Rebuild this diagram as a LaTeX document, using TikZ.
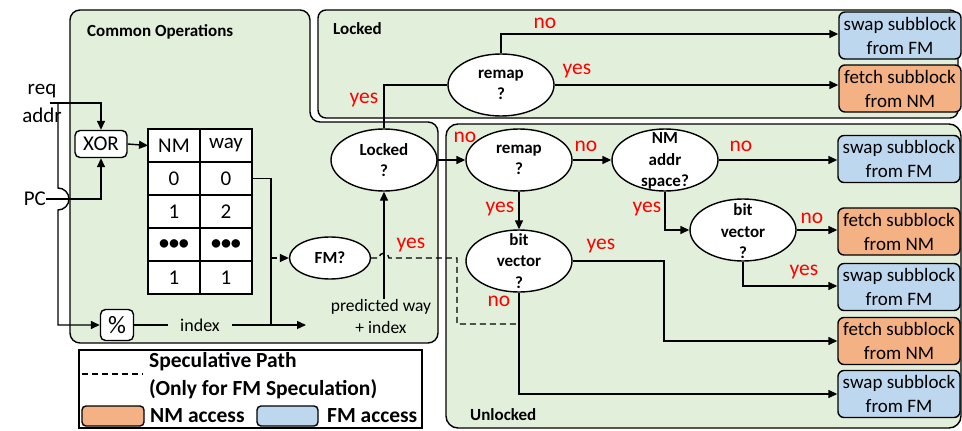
\documentclass[tikz,border=0pt]{standalone}
\usepackage{fontspec}
\setmainfont{Carlito}
\usetikzlibrary{arrows.meta,shapes.geometric}
\definecolor{panelgreen}{HTML}{E2EFDA}
\definecolor{nmorange}{HTML}{F4B183}
\definecolor{fmblue}{HTML}{BDD7EE}
\tikzset{
  wire/.style={line width=1.4pt},
  conn/.style={line width=1.4pt, -{Triangle[length=9pt,width=8pt]}},
  spec/.style={line width=1.4pt, dash pattern=on 6pt off 4pt},
  panel/.style={draw, line width=1.4pt, fill=panelgreen},
  paneltitle/.style={font=\bfseries\fontsize{17}{20}\selectfont, inner sep=0pt, anchor=west},
  dec/.style={ellipse, draw, fill=white, line width=1.4pt, minimum width=106pt, minimum height=62pt, inner sep=0pt},
  dectext/.style={font=\bfseries\fontsize{17}{21.5}\selectfont, align=center, inner sep=0pt},
  nmbox/.style={draw, fill=nmorange, rounded corners=6pt, line width=1.4pt, minimum width=122pt, minimum height=47pt, inner sep=0pt, align=center, font=\fontsize{19}{24}\selectfont},
  fmbox/.style={nmbox, fill=fmblue},
  ans/.style={text=red, font=\fontsize{21.5}{24}\selectfont, inner sep=0pt},
  plain/.style={font=\fontsize{21}{24}\selectfont, inner sep=0pt},
  opbox/.style={draw, fill=white, rounded corners=5pt, line width=1.4pt, inner sep=0pt, font=\fontsize{21}{24}\selectfont},
  cell/.style={draw, fill=white, line width=1.4pt, minimum width=52pt, minimum height=33pt, inner sep=0pt, outer sep=0pt, font=\fontsize{21}{24}\selectfont},
  small/.style={font=\fontsize{18}{22}\selectfont, inner sep=0pt, align=center},
  legtext/.style={font=\bfseries\fontsize{21.5}{24}\selectfont, inner sep=0pt, anchor=west},
}
\begin{document}
\begin{tikzpicture}[x=1pt, y=-1pt]
\useasboundingbox (0,0) rectangle (962,431);

% ---------- panels ----------
\draw[panel, rounded corners=10pt] (70,180) -- (70,10) -- (310,10) -- (310,122) -- (438,122) -- (438,343) -- (70,343) -- cycle;
\draw[panel, rounded corners=8pt] (318,10) rectangle (958,118);
\draw[panel, rounded corners=12pt] (446,124) rectangle (961,428);
\node[paneltitle] (tco) at (87,32) {Common Operations};
\node[paneltitle] (tlk) at (333,29) {Locked};
\node[paneltitle] (tul) at (470,415) {Unlocked};

% ---------- inputs ----------
\node[plain] (req) at (42,91) {req};
\node[plain] (addr) at (42,115) {addr};
\node[plain, anchor=east] (pc) at (46,199) {PC};
\node[opbox, minimum width=52pt, minimum height=27pt] (xor) at (101,144) {XOR};
\node[opbox, minimum width=33pt, minimum height=31pt, font=\fontsize{25}{28}\selectfont] (pct) at (117,325) {\%};
\coordinate (rq) at (50,103);
\coordinate (rqv) at (58,103);
\coordinate (hop) at (58,188);
\coordinate (rqb) at (58,325);
\draw[conn] (rq) -| (xor.north);
\draw[conn] (pc.east) -| (xor.south);
\draw[conn] (rqv) -- (hop) arc[start angle=-90, end angle=90, radius=11] -- (rqb) -- (pct.west);

% ---------- prediction table ----------
\node[cell] (c00) at (174,145.5) {NM};
\node[cell] (c01) at (226,145.5) {way};
\node[cell] (c10) at (174,178.5) {0};
\node[cell] (c11) at (226,178.5) {0};
\node[cell] (c20) at (174,211.5) {1};
\node[cell] (c21) at (226,211.5) {2};
\node[cell, font=\bfseries\fontsize{20}{24}\selectfont] (c30) at (174,244.5) {•••};
\node[cell, font=\bfseries\fontsize{20}{24}\selectfont] (c31) at (226,244.5) {•••};
\node[cell] (c40) at (174,277.5) {1};
\node[cell] (c41) at (226,277.5) {1};
\draw[conn] (xor.east) -- (c00.west);

% ---------- index path ----------
\node[small, inner xsep=12pt] (idx) at (200,325) {index};
\coordinate (idxend) at (306,325);
\coordinate (jn) at (271,325);
\coordinate (jf) at (271,258);
\draw[wire] (pct.east) -- (idx.west);
\draw[conn] (idx.east) -- (idxend);
\draw[wire] (c11.east) -| (jn);

% ---------- decisions in the common part ----------
\node[dec, minimum width=81pt, minimum height=42pt] (fm) at (330,258) {};
\node[dectext] (fmt) at (fm) {FM?};
\node[dec] (lk) at (384,160) {};
\node[dectext] (lkt) at (lk) {Locked\\?};
\node[small, font=\fontsize{17.5}{22}\selectfont] (pw) at (381,316) {predicted way\\+ index};
\draw[spec, -{Triangle[length=9pt,width=8pt]}] (jf) -- (fm.west);
\draw[conn] (pw.north -| lk.south) -- (lk.south);

% speculative path, hopping over the prediction line
\coordinate (sp1) at (379,258);
\coordinate (sp2) at (457,258);
\coordinate (sp3) at (457,324);
\draw[spec] (fm.east) -- (sp1) arc[start angle=180, end angle=360, radius=5] -- (sp2) -- (sp3) -- (sp3 -| 518,0);

% ---------- locked branch ----------
\node[dec] (rmt) at (501,85) {};
\node[dectext] (rmtt) at (rmt) {remap\\?};
\node[fmbox] (sw1) at (900,35.5) {swap subblock\\from FM};
\node[nmbox] (fb1) at (900,88.5) {fetch subblock\\from NM};
\draw[wire] (lk.north) |- (rmt.west);
\draw[conn] (rmt.north) |- ([yshift=1.5pt]sw1.west);
\draw[conn] (rmt.east) -- (rmt.east -| fb1.west);

% ---------- unlocked branch ----------
\node[dec] (rmu) at (519,160) {};
\node[dectext] (rmut) at (rmu) {remap\\?};
\node[dec] (nma) at (665,160) {};
\node[dectext] (nmat) at (665,161) {NM\\addr\\space?};
\node[dec] (bvr) at (743,230) {};
\node[dectext] (bvrt) at (743,231.5) {bit\\vector\\?};
\node[dec] (bvm) at (519,261) {};
\node[dectext] (bvmt) at (519,261) {bit\\vector\\?};

\node[fmbox] (sw2) at (899,159) {swap subblock\\from FM};
\node[nmbox] (fb2) at (899,231.5) {fetch subblock\\from NM};
\node[fmbox] (sw3) at (899,287) {swap subblock\\from FM};
\node[nmbox] (fb3) at (899,341) {fetch subblock\\from NM};
\node[fmbox] (sw4) at (899,394) {swap subblock\\from FM};

\coordinate (k1) at (664,341);
\draw[conn] (lk.east) -- (rmu.west);
\draw[conn] (rmu.east) -- (nma.west);
\draw[conn] (nma.east) -- (nma.east -| sw2.west);
\draw[conn] (rmu.south) -- (bvm.north);
\draw[conn] (nma.south) |- (bvr.west);
\draw[conn] (bvr.east) -- (bvr.east -| fb2.west);
\draw[conn] (bvr.south) |- ([yshift=1pt]sw3.west);
\draw[conn] (bvm.east) -| (k1) -- (fb3.west);
\draw[conn] (bvm.south) |- (sw4.west);

% ---------- answers ----------
\node[ans] (a1) at (545,23) {no};
\node[ans] (a2) at (577,71) {yes};
\node[ans] (a3) at (364,100) {yes};
\node[ans] (a4) at (465,137) {no};
\node[ans] (a5) at (586,146) {no};
\node[ans] (a6) at (741,146) {no};
\node[ans] (a7) at (500,209) {yes};
\node[ans] (a8) at (647,209) {yes};
\node[ans] (a9) at (812,218) {no};
\node[ans] (a10) at (804,272) {yes};
\node[ans] (a11) at (601,246) {yes};
\node[ans] (a12) at (499,301) {no};
\node[ans] (a13) at (411,245) {yes};

% ---------- legend ----------
\draw[line width=1.4pt, fill=white] (79,350) rectangle (422,428);
\coordinate (ld1) at (82,374);
\coordinate (ld2) at (143,374);
\draw[spec] (ld1) -- (ld2);
\node[legtext] (lg1) at (149,362) {Speculative Path};
\node[legtext] (lg2) at (149,389) {(Only for FM Speculation)};
\node[draw, fill=nmorange, rounded corners=4pt, line width=1.4pt, minimum width=62pt, minimum height=20pt, inner sep=0pt] (lgo) at (113,416) {};
\node[legtext] (lg3) at (150,416) {NM access};
\node[draw, fill=fmblue, rounded corners=4pt, line width=1.4pt, minimum width=61pt, minimum height=20pt, inner sep=0pt] (lgb) at (287.5,416) {};
\node[legtext] (lg4) at (327,416) {FM access};
\end{tikzpicture}
\end{document}
